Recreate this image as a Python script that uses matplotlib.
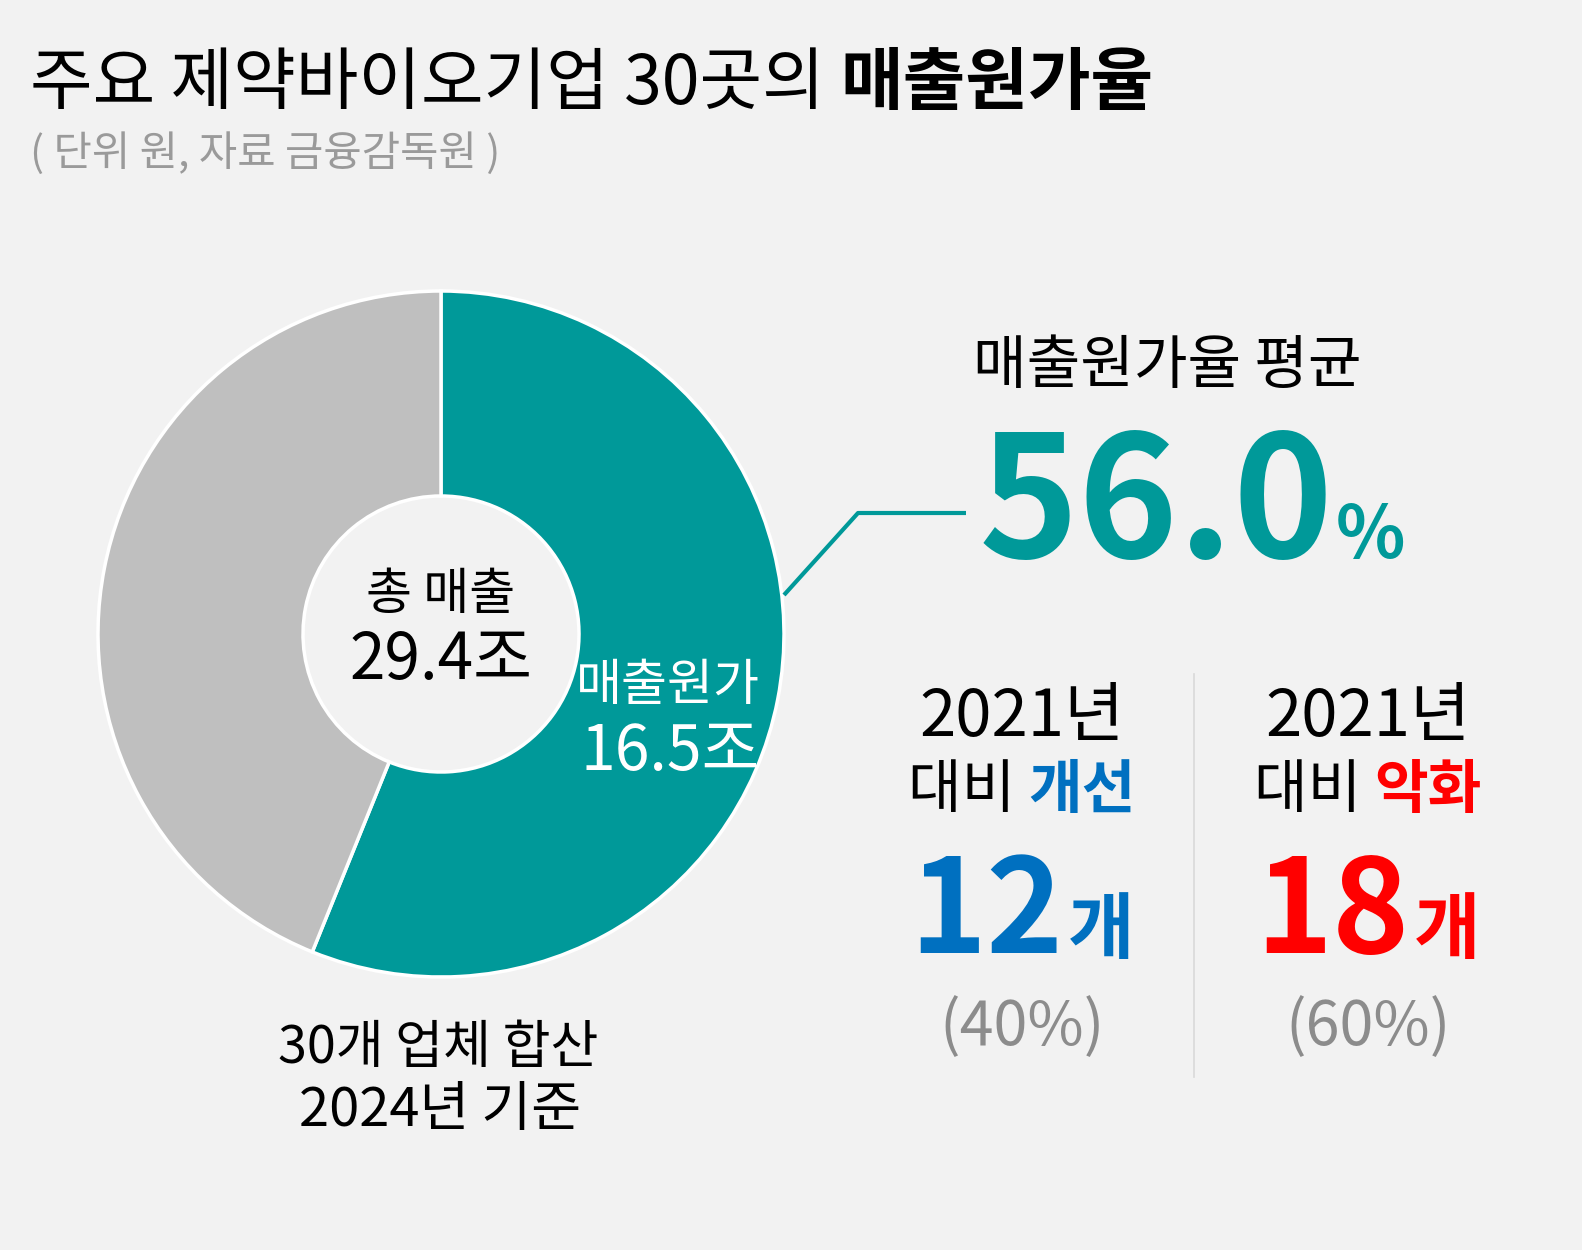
import matplotlib.pyplot as plt

plt.rcParams['font.family'] = ['Noto Sans CJK KR', 'DejaVu Sans']

W, H = 1582, 1250

# data
title_plain = '주요 제약바이오기업 30곳의 '
title_bold = '매출원가율'
subtitle = '( 단위 원, 자료 금융감독원 )'

slice_names = ['매출원가', '기타']
slice_values = [16.5, 12.9]
total_label = '총 매출'
total_value = 29.4
unit = '조'
base_note = ['30개 업체 합산', '2024년 기준']

avg_label = '매출원가율 평균'
avg_ratio = 56.0

compare_year = 2021
groups = ['개선', '악화']
counts = [12, 18]
shares = [40, 60]

TEAL = '#009999'
GRAY = '#BFBFBF'
BG = '#F2F2F2'
group_colors = ['#0070C0', '#FF0000']


def Y(y):
    return H - y


fig = plt.figure(figsize=(W / 100, H / 100), dpi=100, facecolor=BG)
ax = fig.add_axes([0, 0, 1, 1])
ax.set_facecolor(BG)

ax.pie(slice_values, colors=[TEAL, GRAY], startangle=90, counterclock=False,
       radius=343, center=(441, Y(634)),
       wedgeprops=dict(width=205, edgecolor='white', linewidth=2.5))
ax.set_xlim(0, W)
ax.set_ylim(0, H)
ax.set_aspect('auto')
ax.axis('off')

renderer = fig.canvas.get_renderer()


def text_row(x, y, pieces, ha='left', va='baseline', gap=0):
    # put text pieces side by side, then shift the whole row
    arts = []
    cx = 0
    for s, kw in pieces:
        t = ax.text(cx, y, s, va=va, ha='left', **kw)
        x1 = t.get_window_extent(renderer).x1
        arts.append(t)
        cx = x1 + gap
    x0 = arts[0].get_window_extent(renderer).x0
    width = arts[-1].get_window_extent(renderer).x1 - x0
    start = x if ha == 'left' else x - width / 2
    for t in arts:
        t.set_x(t.get_position()[0] + start - x0)
    return arts


# title
text_row(30, Y(85), [(title_plain, dict(fontsize=49)),
                     (title_bold, dict(fontsize=49, fontweight='bold'))], va='center')
ax.text(30, Y(154), subtitle, fontsize=30, color='#9A9A9A', va='center', fontweight='light')

# donut labels
ax.text(441, Y(595), total_label, fontsize=36, ha='center', va='center')
ax.text(441, Y(661), f'{total_value}{unit}', fontsize=46, ha='center', va='center',
        fontweight='medium')
ax.text(668, Y(686), slice_names[0], fontsize=36, ha='center', va='center', color='white')
ax.text(670, Y(752), f'{slice_values[0]}{unit}', fontsize=45, ha='center', va='center',
        color='white')
ax.text(438, Y(1048), base_note[0], fontsize=37.5, ha='center', va='center')
ax.text(440, Y(1111), base_note[1], fontsize=39, ha='center', va='center')

# leader line
ax.plot([784, 858, 966], [Y(595), Y(513), Y(513)], color=TEAL, lw=3,
        solid_capstyle='butt')

# average
ax.text(1167, Y(367), avg_label, fontsize=42, ha='center', va='center')
text_row(979, Y(558), [(f'{avg_ratio:.1f}', dict(fontsize=122, fontweight='bold', color=TEAL)),
                       ('%', dict(fontsize=52, fontweight='bold', color=TEAL))], gap=2)

# separator
ax.plot([1194, 1194], [Y(674), Y(1077)], color='#D9D9D9', lw=1.2)

# comparison columns
col_x = [1022, 1368]
for cx, g, n, s, c in zip(col_x, groups, counts, shares, group_colors):
    ax.text(cx, Y(718), f'{compare_year}년', fontsize=47, ha='center', va='center')
    text_row(cx, Y(791), [('대비 ', dict(fontsize=42)),
                          (g, dict(fontsize=42, fontweight='bold', color=c))],
             ha='center', va='center')
    text_row(cx, Y(953), [(str(n), dict(fontsize=94, fontweight='bold', color=c)),
                          ('개', dict(fontsize=52, fontweight='bold', color=c))],
             ha='center', gap=5)
    ax.text(cx, Y(1028), f'({s}%)', fontsize=44, ha='center', va='center', color='#8C8C8C')

fig.savefig('out.png', dpi=100, facecolor=BG)
